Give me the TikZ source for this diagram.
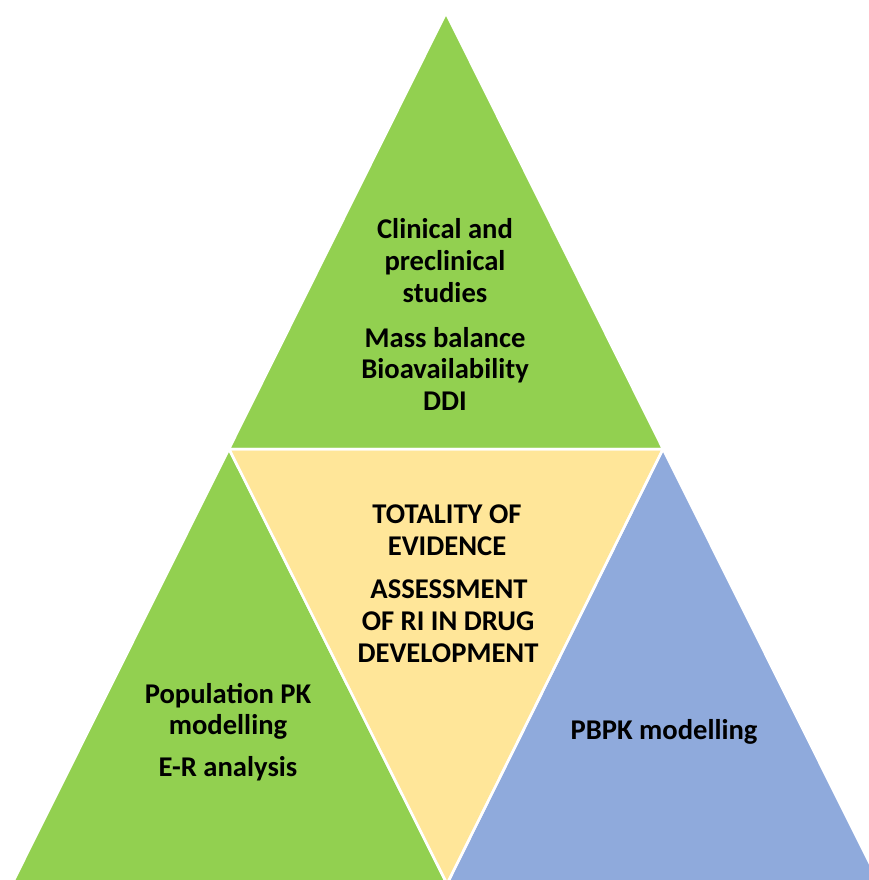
\documentclass[tikz,border=0pt]{standalone}
\usepackage{fontspec}
\setmainfont{Carlito}
\definecolor{pgreen}{HTML}{92D050}
\definecolor{pyellow}{HTML}{FFE699}
\definecolor{pblue}{HTML}{8FAADC}
\begin{document}
\begin{tikzpicture}[x=1pt,y=-1pt,
  tri/.style={draw=white,line width=2.5pt,line join=miter},
  lbl/.style={anchor=base,inner sep=0pt,font=\fontsize{28.6}{32}\selectfont\bfseries,text=black}]
\useasboundingbox (0,0) rectangle (869,880);
\clip (0,0) rectangle (869,880);
\coordinate (A) at (446,13);
\coordinate (L) at (229,449);
\coordinate (R) at (663,449);
\coordinate (M) at (447,884);
\coordinate (BL) at (12,884);
\coordinate (BR) at (880,884);
\fill[pgreen] (A) -- (L) -- (R) -- cycle;
\fill[pyellow] (L) -- (R) -- (M) -- cycle;
\fill[pgreen] (L) -- (BL) -- (M) -- cycle;
\fill[pblue] (R) -- (M) -- (BR) -- cycle;
\draw[tri] (A) -- (L) -- (R) -- cycle;
\draw[tri] (L) -- (R) -- (M) -- cycle;
\draw[tri] (L) -- (BL) -- (M) -- cycle;
\draw[tri] (R) -- (M) -- (BR) -- cycle;
% top
\node[lbl] (t1) at (445,238) {Clinical and};
\node[lbl] (t2) at (445,270) {preclinical};
\node[lbl] (t3) at (445,302) {studies};
\node[lbl] (t4) at (445,347) {Mass balance};
\node[lbl] (t5) at (445,378) {Bioavailability};
\node[lbl] (t6) at (445,410) {DDI};
% centre
\node[lbl] (c1) at (447,523) {TOTALITY OF};
\node[lbl] (c2) at (447,555) {EVIDENCE};
\node[lbl] (c3) at (449,598) {ASSESSMENT};
\node[lbl] (c4) at (448,630) {OF RI IN DRUG};
\node[lbl] (c5) at (448,662) {DEVELOPMENT};
% left
\node[lbl] (l1) at (228,703) {Population PK};
\node[lbl] (l2) at (228,734) {modelling};
\node[lbl] (l3) at (228,776) {E-R analysis};
% right
\node[lbl] (r1) at (664,739) {PBPK modelling};
\end{tikzpicture}
\end{document}
